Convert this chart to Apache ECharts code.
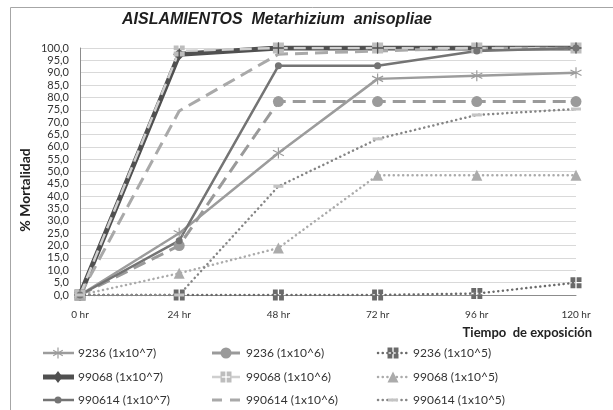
<!DOCTYPE html>
<html>
<head>
<meta charset="utf-8">
<script src="https://cdn.jsdelivr.net/npm/echarts@6/dist/echarts.min.js"></script>
<style>
  html, body { margin: 0; padding: 0; background: #fff; }
  #chart { width: 613px; height: 410px; }
</style>
</head>
<body>
<div id="chart"></div>
<script>
// Exposure times
const categories = ['0 hr', '24 hr', '48 hr', '72 hr', '96 hr', '120 hr'];

// Mortality (%) per isolate and concentration
const s9236_e7   = [0, 25, 57.5, 87.5, 88.8, 90];
const s9236_e6   = [0, 20, 78.3, 78.3, 78.3, 78.3];
const s9236_e5   = [0, 0, 0, 0, 0.6, 5];
const s99068_e7  = [0, 97.5, 100, 100, 100, 100];
const s99068_e6  = [0, 98.8, 100, 100, 100, 100];
const s99068_e5  = [0, 8.8, 19, 48.5, 48.5, 48.5];
const s990614_e7 = [0, 22, 92.8, 92.8, 98.8, 100];
const s990614_e6 = [0, 74.5, 97.5, 98.8, 100, 100];
const s990614_e5 = [0, 0, 44, 63.2, 72.9, 75.3];

const DOTTED = [0.1, 4.6];
const DASHED = [13, 7];

// Drawing order (later ones on top) and per-series styling
const styles = [
  { name: '9236 (1x10^7)',   data: s9236_e7,   color: '#9c9c9c', width: 2.5, dash: null,      marker: 'asterisk', size: 11, col: 0, row: 0 },
  { name: '9236 (1x10^6)',   data: s9236_e6,   color: '#9a9a9a', width: 3,   dash: DASHED,    marker: 'circle',   size: 11, col: 1, row: 0 },
  { name: '9236 (1x10^5)',   data: s9236_e5,   color: '#6a6a6a', width: 2.5, dash: DOTTED,    marker: 'grid',     size: 11, col: 2, row: 0 },
  { name: '99068 (1x10^7)',  data: s99068_e7,  color: '#505050', width: 5,   dash: null,      marker: 'diamond',  size: 12, col: 0, row: 1 },
  { name: '990614 (1x10^6)', data: s990614_e6, color: '#a9a9a9', width: 3,   dash: DASHED,    marker: 'none',     size: 0,  col: 1, row: 2 },
  { name: '99068 (1x10^6)',  data: s99068_e6,  color: '#cfcfcf', width: 2.5, dash: [12, 6],   marker: 'grid',     size: 11, col: 1, row: 1, markerColor: '#bdbdbd' },
  { name: '99068 (1x10^5)',  data: s99068_e5,  color: '#ababab', width: 2.5, dash: DOTTED,    marker: 'triangle', size: 11, col: 2, row: 1 },
  { name: '990614 (1x10^7)', data: s990614_e7, color: '#747474', width: 2.5, dash: null,      marker: 'circle',   size: 7,  col: 0, row: 2 },
  { name: '990614 (1x10^5)', data: s990614_e5, color: '#858585', width: 2.5, dash: DOTTED,    marker: 'dash',     size: 10, col: 2, row: 2, markerColor: '#c4c4c4' }
];

// symbol paths for the series markers
const symbolPaths = {
  asterisk: 'path://M0,-10L0,10M-8.66,-5L8.66,5M-8.66,5L8.66,-5',
  grid: 'path://M0,0h4.4v4.4h-4.4z M5.6,0h4.4v4.4h-4.4z M0,5.6h4.4v4.4h-4.4z M5.6,5.6h4.4v4.4h-4.4z',
  dash: 'path://M0,0h10v2.5h-10z',
  circle: 'circle', diamond: 'diamond', triangle: 'triangle', none: 'none'
};

const series = styles.map(s => {
  const mc = s.markerColor || s.color;
  const itemStyle = { color: mc };
  if (s.marker === 'asterisk') { itemStyle.borderColor = mc; itemStyle.borderWidth = 1.2; }
  return {
    name: s.name,
    type: 'line',
    data: s.data,
    symbol: symbolPaths[s.marker],
    symbolSize: s.marker === 'dash' ? [10, 3] : s.size,
    showSymbol: s.marker !== 'none',
    itemStyle: itemStyle,
    lineStyle: {
      color: s.color, width: s.width,
      type: s.dash || 'solid',
      cap: s.dash === DOTTED ? 'round' : 'butt'
    },
    emphasis: { disabled: true },
    animation: false
  };
});

// Legend: three columns of line samples with their markers and labels
const legendCols = [43, 211, 378];
const legendRows = [353, 377, 400];
const legendGraphics = [];

function markerGraphic(s, cx, cy) {
  const c = s.markerColor || s.color;
  const r = s.size / 2;
  switch (s.marker) {
    case 'circle':
      return { type: 'circle', shape: { cx: cx, cy: cy, r: r }, style: { fill: c } };
    case 'diamond':
      return { type: 'polygon', shape: { points: [[cx, cy - r], [cx + r * 0.75, cy], [cx, cy + r], [cx - r * 0.75, cy]] }, style: { fill: c } };
    case 'triangle':
      return { type: 'polygon', shape: { points: [[cx, cy - r], [cx + r, cy + r], [cx - r, cy + r]] }, style: { fill: c } };
    case 'grid': {
      const x0 = cx - r, y0 = cy - r, q = s.size * 0.44, g = s.size * 0.56;
      return { type: 'group', children: [[0, 0], [g, 0], [0, g], [g, g]].map(p => ({
        type: 'rect', shape: { x: x0 + p[0], y: y0 + p[1], width: q, height: q }, style: { fill: c }
      })) };
    }
    case 'asterisk':
      return { type: 'group', children: [
        [0, -r, 0, r], [-r * 0.866, -r * 0.5, r * 0.866, r * 0.5], [-r * 0.866, r * 0.5, r * 0.866, -r * 0.5]
      ].map(l => ({
        type: 'line', shape: { x1: cx + l[0], y1: cy + l[1], x2: cx + l[2], y2: cy + l[3] }, style: { stroke: c, lineWidth: 1.2 }
      })) };
    case 'dash':
      return { type: 'rect', shape: { x: cx - 5, y: cy - 1.5, width: 10, height: 3 }, style: { fill: c } };
    default:
      return null;
  }
}

styles.forEach(s => {
  const x0 = legendCols[s.col];
  const y = legendRows[s.row];
  const children = [];
  if (s.dash && s.dash !== DOTTED) {
    // two short dashes around the marker
    children.push({ type: 'line', shape: { x1: x0 + 1, y1: y, x2: x0 + 11, y2: y }, style: { stroke: s.color, lineWidth: s.width } });
    children.push({ type: 'line', shape: { x1: x0 + 19, y1: y, x2: x0 + 29, y2: y }, style: { stroke: s.color, lineWidth: s.width } });
  } else {
    children.push({
      type: 'line', shape: { x1: x0, y1: y, x2: x0 + 31, y2: y },
      style: {
        stroke: s.color, lineWidth: s.width,
        lineDash: s.dash || null, lineCap: s.dash === DOTTED ? 'round' : 'butt'
      }
    });
  }
  const m = markerGraphic(s, x0 + 15, y);
  if (m) children.push(m);
  children.push({
    type: 'text', x: x0 + 35, y: y,
    style: { text: s.name, font: '12px Lato', fill: '#333', verticalAlign: 'middle' }
  });
  legendGraphics.push({ type: 'group', silent: true, children: children });
});

const chart = echarts.init(document.getElementById('chart'), null, { renderer: 'canvas' });
chart.setOption({
  backgroundColor: '#fff',
  animation: false,
  title: {
    text: 'AISLAMIENTOS  Metarhizium  anisopliae',
    left: 122,
    top: 12,
    padding: 0,
    textStyle: { fontFamily: 'Liberation Sans', fontSize: 16, fontWeight: 'bold', fontStyle: 'italic', color: '#1e1e1e' }
  },
  graphic: [
    {
      type: 'rect',
      shape: { x: 10.5, y: 7.5, width: 700, height: 500 },
      style: { fill: 'none', stroke: '#a6a6a6', lineWidth: 1 },
      silent: true
    },
    {
      type: 'text',
      x: 592, y: 333,
      style: { text: 'Tiempo  de exposición', font: 'bold 13px Lato', fill: '#222', align: 'right', verticalAlign: 'middle' }
    },
    {
      type: 'text',
      x: 25, y: 190, rotation: Math.PI / 2,
      style: { text: '% Mortalidad', font: 'bold 14px Lato', fill: '#222', align: 'center', verticalAlign: 'middle' }
    }
  ].concat(legendGraphics),
  grid: { left: 80, right: 37, top: 48, bottom: 115, containLabel: false },
  xAxis: {
    type: 'category',
    data: categories,
    boundaryGap: false,
    axisLine: { lineStyle: { color: '#8c8c8c', width: 1 } },
    axisTick: { show: false },
    axisLabel: { fontFamily: 'Lato', fontSize: 10, color: '#333', margin: 15 },
    splitLine: { show: false }
  },
  yAxis: {
    type: 'value',
    min: 0,
    max: 100,
    interval: 5,
    axisLine: { show: true, lineStyle: { color: '#8c8c8c', width: 1 } },
    axisTick: { show: false },
    axisLabel: {
      fontFamily: 'Lato', fontSize: 11, color: '#333', margin: 11,
      formatter: v => v.toFixed(1).replace('.', ',')
    },
    splitLine: { lineStyle: { color: '#d9d9d9', width: 1 } }
  },
  series: series
});
</script>
</body>
</html>
